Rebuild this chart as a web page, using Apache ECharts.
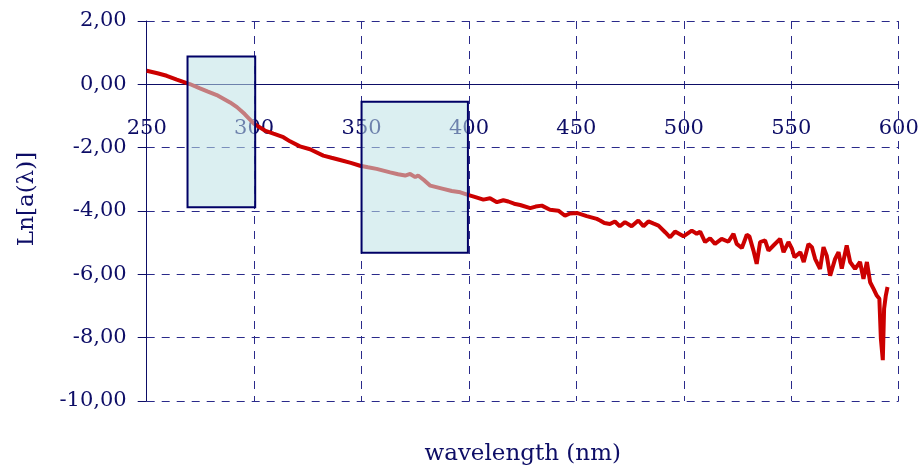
<!DOCTYPE html>
<html>
<head>
<meta charset="utf-8">
<script src="https://cdn.jsdelivr.net/npm/echarts@6/dist/echarts.min.js"></script>
<style>
html,body{margin:0;padding:0;background:#fff;}
#chart{width:922px;height:470px;}
</style>
</head>
<body>
<div id="chart"></div>
<script>
// wavelength (nm)
const wavelengths = [250,255,259.3,264,270,274.8,278.5,282.6,288.8,292,295.6,300,305,309,313.6,316.7,321.3,326,332.2,336,340,345,349.3,353,357,363.3,367,370.3,372.6,375,376.3,379,382,388,392,396,399.5,403,406.7,409.8,413,416,418.3,421,423.8,428.5,431,433.9,437.7,441.6,444.7,447,450.2,454.8,459.5,461,463,465.6,467.9,470.2,472.6,475.7,478.8,481.2,483.5,486,488.2,491.3,493.6,495.9,499.8,503.7,506,507.6,509.9,512.2,514.5,517.6,520.7,523.1,524.6,527,529.3,530.5,532.4,533.9,535.5,537.8,539.4,541.7,544.8,546.4,548.7,550.3,551.5,554.2,555.8,558,559.6,561.1,563.4,565,566.5,568.1,570.4,572,573.5,575.8,577.4,579.7,582,583.6,585.2,586.7,588.3,589.8,591,591.7,592.6,593.2,594,594.8];
// Ln[a(lambda)]
const lnA = [0.43,0.35,0.27,0.15,0.01,-0.13,-0.23,-0.34,-0.57,-0.72,-0.94,-1.25,-1.46,-1.56,-1.67,-1.80,-1.96,-2.05,-2.25,-2.32,-2.39,-2.48,-2.57,-2.62,-2.67,-2.78,-2.84,-2.88,-2.83,-2.93,-2.88,-3.02,-3.20,-3.30,-3.37,-3.41,-3.49,-3.56,-3.64,-3.60,-3.72,-3.66,-3.70,-3.77,-3.81,-3.91,-3.86,-3.83,-3.96,-3.99,-4.15,-4.08,-4.06,-4.16,-4.25,-4.30,-4.38,-4.41,-4.33,-4.48,-4.35,-4.48,-4.30,-4.48,-4.33,-4.40,-4.46,-4.67,-4.83,-4.65,-4.80,-4.62,-4.72,-4.65,-4.98,-4.86,-5.04,-4.88,-4.97,-4.72,-5.04,-5.17,-4.75,-4.80,-5.25,-5.67,-4.98,-4.93,-5.25,-5.09,-4.88,-5.30,-4.98,-5.19,-5.46,-5.30,-5.61,-5.04,-5.14,-5.51,-5.83,-5.14,-5.41,-6.04,-5.51,-5.30,-5.82,-5.09,-5.61,-5.83,-5.61,-6.14,-5.61,-6.25,-6.46,-6.67,-6.77,-8.03,-8.71,-7.09,-6.67,-6.40];
// highlighted boxes: [x start, x end, y top, y bottom]
const boxStart = [269, 350];
const boxEnd = [300.5, 399.5];
const boxTop = [0.88, -0.55];
const boxBottom = [-3.88, -5.32];
// ticks
const xTicks = [250,300,350,400,450,500,550,600];
const yTicks = [-10,-8,-6,-4,-2,0,2];
const yTickLabels = ['-10,00','-8,00','-6,00','-4,00','-2,00','0,00','2,00'];

const navy = '#0d0d66';
const gridColor = '#2a2a8a';
const fontFam = '"DejaVu Serif", serif';

const chart = echarts.init(document.getElementById('chart'), null, {renderer:'canvas'});
const lineData = wavelengths.map((w,i)=>[w, lnA[i]]);
const boxData = boxStart.map((s,i)=>[s, boxEnd[i], boxTop[i], boxBottom[i]]);

chart.setOption({
  animation:false,
  backgroundColor:'#ffffff',
  grid:{left:146.7, right:23.3, top:21, bottom:69, containLabel:false, outerBoundsMode:'none'},
  xAxis:{
    type:'value', position:'bottom', min:xTicks[0], max:xTicks[xTicks.length-1], interval:50,
    name:'wavelength (nm)', nameLocation:'middle', nameGap:358,
    nameTextStyle:{color:navy, fontFamily:fontFam, fontSize:23},
    axisLine:{show:true, onZero:false, lineStyle:{color:navy, width:1}},
    axisTick:{show:false},
    axisLabel:{color:navy, fontFamily:fontFam, fontSize:21, margin:34,
      formatter:(v)=> xTicks.indexOf(v)>=0 ? String(v) : ''},
    splitLine:{show:true, lineStyle:{color:gridColor, type:[8,7], width:1}}
  },
  yAxis:{
    type:'value', min:-10, max:2, interval:2,
    name:'Ln[a(λ)]', nameLocation:'middle', nameGap:108, nameRotate:90,
    nameTextStyle:{color:navy, fontFamily:fontFam, fontSize:23, padding:[0,0,0,24]},
    axisLine:{show:true, onZero:false, lineStyle:{color:navy, width:1}},
    axisTick:{show:true, length:9, inside:false, lineStyle:{color:navy, width:1}},
    axisLabel:{color:navy, fontFamily:fontFam, fontSize:21, margin:20,
      formatter:(v)=>{const i=yTicks.indexOf(Math.round(v)); return i>=0?yTickLabels[i]:'';}},
    splitLine:{show:true, lineStyle:{color:gridColor, type:[8,7], width:1}}
  },
  series:[
    {
      type:'line', data:lineData, showSymbol:false, symbol:'none',
      lineStyle:{color:'#cc0000', width:4}, z:2
    },
    {
      type:'custom', z:5, data:boxData,
      renderItem:(params, api)=>{
        const p1 = api.coord([api.value(0), api.value(2)]);
        const p2 = api.coord([api.value(1), api.value(3)]);
        return {
          type:'rect',
          shape:{x:p1[0], y:p1[1], width:p2[0]-p1[0], height:p2[1]-p1[1]},
          style:{fill:'rgba(190,225,230,0.55)', stroke:'#000066', lineWidth:2}
        };
      },
      encode:{x:[0,1], y:[2,3]}
    }
  ]
});
// move the x axis (line + labels) up so that it crosses the y axis at 0
const yZero = chart.convertToPixel({yAxisIndex:0}, 0);
const yMin = chart.convertToPixel({yAxisIndex:0}, -10);
const shift = yMin - yZero;
chart.setOption({xAxis:{offset:-shift}});
</script>
</body>
</html>
